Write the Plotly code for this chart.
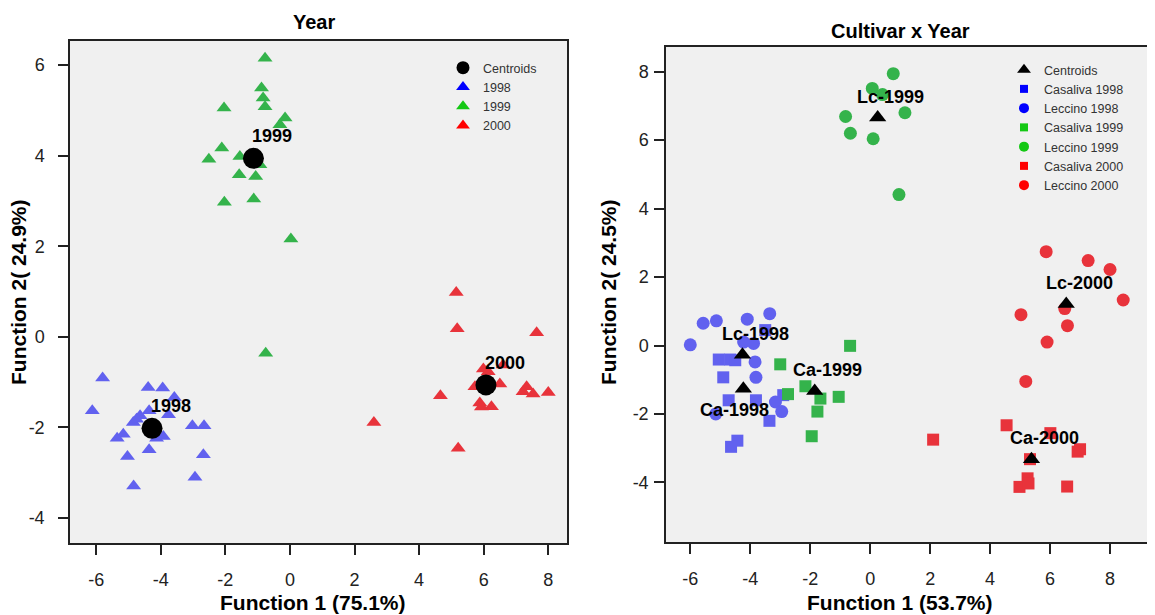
import plotly.graph_objects as go

# ---------------- Left panel: Year ----------------
year_1998_f1 = [-5.80, -6.12, -4.39, -3.94, -3.58, -3.76, -4.36, -4.64, -4.85, -4.75, -5.16, -5.35,
                -4.13, -3.92, -4.36, -5.03, -4.84, -3.02, -2.66, -2.68, -2.94]
year_1998_f2 = [-0.91, -1.63, -1.12, -1.13, -1.34, -1.72, -1.63, -1.74, -1.89, -1.82, -2.15, -2.24,
                -2.24, -2.20, -2.49, -2.64, -3.29, -1.96, -1.96, -2.60, -3.10]
year_1999_f1 = [-0.77, -0.88, -0.83, -0.77, -2.04, -0.15, -0.31, -2.11, -2.51, -1.55, -0.93, -1.57,
                -1.06, -2.03, -1.12, 0.03, -0.75]
year_1999_f2 = [6.15, 5.49, 5.27, 5.08, 5.05, 4.83, 4.68, 4.17, 3.92, 3.98, 3.80, 3.58,
                3.54, 2.97, 3.04, 2.16, -0.36]
year_2000_f1 = [5.15, 5.18, 7.64, 5.99, 6.14, 6.60, 5.73, 6.50, 4.66, 7.33, 7.22, 7.53, 8.00,
                5.88, 5.93, 6.24, 2.60, 5.21]
year_2000_f2 = [0.98, 0.18, 0.09, -0.71, -0.77, -0.62, -1.10, -1.04, -1.30, -1.10, -1.21, -1.26, -1.23,
                -1.46, -1.55, -1.54, -1.89, -2.46]
year_centroid_names = ["1998", "1999", "2000"]
year_centroid_f1 = [-4.27, -1.13, 6.07]
year_centroid_f2 = [-2.02, 3.94, -1.06]

# ---------------- Right panel: Cultivar x Year ----------------
ca1998_f1 = [-5.05, -4.67, -4.50, -4.90, -4.72, -3.81, -3.36, -4.43, -4.64, -3.50, -2.90]
ca1998_f2 = [-0.41, -0.41, -0.43, -0.93, -1.60, -1.60, -2.20, -2.78, -2.96, 0.45, -1.45]
lc1998_f1 = [-6.00, -5.57, -5.13, -4.10, -3.35, -4.22, -3.89, -3.84, -3.81, -3.16, -2.95, -5.15]
lc1998_f2 = [0.02, 0.65, 0.72, 0.77, 0.93, 0.10, 0.06, -0.48, -0.93, -1.65, -1.93, -2.00]
ca1999_f1 = [-0.67, -3.00, -2.74, -2.16, -1.05, -1.66, -1.76, -1.95]
ca1999_f2 = [-0.01, -0.55, -1.42, -1.19, -1.50, -1.55, -1.93, -2.65]
lc1999_f1 = [0.77, 0.07, 0.41, -0.82, 1.16, -0.66, 0.10, 0.96]
lc1999_f2 = [7.94, 7.51, 7.33, 6.69, 6.80, 6.20, 6.04, 4.41]
ca2000_f1 = [2.10, 4.55, 6.01, 6.92, 7.00, 5.33, 5.25, 4.98, 5.28, 6.57]
ca2000_f2 = [-2.75, -2.33, -2.56, -3.10, -3.03, -3.32, -3.88, -4.13, -4.03, -4.12]
lc2000_f1 = [5.87, 7.27, 8.00, 8.44, 5.03, 6.49, 6.58, 5.90, 5.19]
lc2000_f2 = [2.74, 2.48, 2.22, 1.33, 0.90, 1.08, 0.58, 0.10, -1.05]
cy_centroid_names = ["Ca-1998", "Lc-1998", "Ca-1999", "Lc-1999", "Ca-2000", "Lc-2000"]
cy_centroid_f1 = [-4.23, -4.26, -1.85, 0.25, 5.38, 6.54]
cy_centroid_f2 = [-1.26, -0.27, -1.33, 6.66, -3.32, 1.21]

x_ticks = [-6, -4, -2, 0, 2, 4, 6, 8]
y_ticks_left = [-4, -2, 0, 2, 4, 6]
y_ticks_right = [-4, -2, 0, 2, 4, 6, 8]

BLUE, GREEN, RED = "#6161ef", "#34b34b", "#e8333b"
LBLUE, LGREEN, LRED = "#0000ff", "#14c814", "#ff0000"
FONT = "Liberation Sans, Arial, sans-serif"

fig = go.Figure()

# left data
for xs, ys, c in [(year_1998_f1, year_1998_f2, BLUE), (year_1999_f1, year_1999_f2, GREEN),
                  (year_2000_f1, year_2000_f2, RED)]:
    fig.add_trace(go.Scatter(x=xs, y=ys, mode="markers", xaxis="x", yaxis="y", showlegend=False,
                             marker=dict(symbol="triangle-up", size=13, color=c, line=dict(width=0))))
fig.add_trace(go.Scatter(x=year_centroid_f1, y=year_centroid_f2, mode="markers", xaxis="x", yaxis="y",
                         showlegend=False, marker=dict(symbol="circle", size=21, color="black")))

# left legend entries
for name, sym, c, s in [("Centroids", "circle", "black", 13), ("1998", "triangle-up", LBLUE, 12),
                        ("1999", "triangle-up", LGREEN, 12), ("2000", "triangle-up", LRED, 12)]:
    fig.add_trace(go.Scatter(x=[None], y=[None], mode="markers", name=name, xaxis="x", yaxis="y",
                             legend="legend", marker=dict(symbol=sym, size=s, color=c)))

# right data
for xs, ys, sym, c, s in [(ca1998_f1, ca1998_f2, "square", BLUE, 12),
                          (ca1999_f1, ca1999_f2, "square", GREEN, 12),
                          (ca2000_f1, ca2000_f2, "square", RED, 12),
                          (lc1998_f1, lc1998_f2, "circle", BLUE, 13),
                          (lc1999_f1, lc1999_f2, "circle", GREEN, 13),
                          (lc2000_f1, lc2000_f2, "circle", RED, 13)]:
    fig.add_trace(go.Scatter(x=xs, y=ys, mode="markers", xaxis="x2", yaxis="y2", showlegend=False,
                             marker=dict(symbol=sym, size=s, color=c, line=dict(width=0))))
fig.add_trace(go.Scatter(x=cy_centroid_f1, y=cy_centroid_f2, mode="markers", xaxis="x2", yaxis="y2",
                         showlegend=False, marker=dict(symbol="triangle-up", size=15, color="black")))

for name, sym, c, s in [("Centroids", "triangle-up", "black", 12),
                        ("Casaliva 1998", "square", LBLUE, 8), ("Leccino 1998", "circle", LBLUE, 10),
                        ("Casaliva 1999", "square", LGREEN, 8), ("Leccino 1999", "circle", LGREEN, 10),
                        ("Casaliva 2000", "square", LRED, 8), ("Leccino 2000", "circle", LRED, 10)]:
    fig.add_trace(go.Scatter(x=[None], y=[None], mode="markers", name=name, xaxis="x2", yaxis="y2",
                             legend="legend2", marker=dict(symbol=sym, size=s, color=c)))

annotations = []
# centroid labels (left)
for name, x, y in zip(year_centroid_names, year_centroid_f1, year_centroid_f2):
    annotations.append(dict(x=x, y=y, xref="x", yref="y", text=f"<b>{name}</b>", showarrow=False,
                            xshift=19, yshift=22, font=dict(size=18, color="black", family=FONT)))
# centroid labels (right)
shifts = {"Ca-1998": (-9, -21)}
for name, x, y in zip(cy_centroid_names, cy_centroid_f1, cy_centroid_f2):
    dx, dy = shifts.get(name, (13, 21))
    annotations.append(dict(x=x, y=y, xref="x2", yref="y2", text=f"<b>{name}</b>", showarrow=False,
                            xshift=dx, yshift=dy, font=dict(size=18, color="black", family=FONT)))

# the page body adds an 8px margin: lay out the figure in window pixels minus that offset
OFF = 8
W, H = 1155 - OFF, 615 - OFF
def px(x):
    return (x - OFF) / W
def py(y):
    return 1 - (y - OFF) / H

for text, x, y, ang, fs in [("<b>Year</b>", 314, 22, 0, 20), ("<b>Cultivar x Year</b>", 900, 31, 0, 20),
                            ("<b>Function 1 (75.1%)</b>", 313, 602, 0, 21),
                            ("<b>Function 1 (53.7%)</b>", 900, 602, 0, 21),
                            ("<b>Function 2( 24.9%)</b>", 18, 292, -90, 21),
                            ("<b>Function 2( 24.5%)</b>", 608, 292, -90, 21)]:
    annotations.append(dict(x=px(x), y=py(y), xref="paper", yref="paper", text=text, showarrow=False,
                            textangle=ang, xanchor="center", yanchor="middle",
                            font=dict(size=fs, color="black", family=FONT)))

axis_common = dict(showgrid=False, zeroline=False, showline=True, linecolor="#222", linewidth=1.5,
                   ticks="outside", ticklen=10, tickwidth=1.5, tickcolor="#222",
                   tickfont=dict(size=18, color="#222", family=FONT))

fig.update_layout(
    width=W, height=H, margin=dict(l=0, r=0, t=0, b=0),
    paper_bgcolor="white", plot_bgcolor="#f0f0f0",
    xaxis=dict(domain=[px(70), px(567)], range=[-6.81, 8.58], tickvals=x_ticks,
               ticktext=[str(v) for v in x_ticks], anchor="y",
               mirror=True, ticklabelstandoff=10, **axis_common),
    yaxis=dict(domain=[py(543), py(41)], range=[-4.55, 6.53], tickvals=y_ticks_left,
               ticktext=[str(v) for v in y_ticks_left], anchor="x",
               mirror=True, ticklabelstandoff=10, **axis_common),
    xaxis2=dict(domain=[px(666), 1.0], range=[-6.81, 9.5], tickvals=x_ticks,
                ticktext=[str(v) for v in x_ticks], anchor="y2",
                mirror=True, ticklabelstandoff=10, **axis_common),
    yaxis2=dict(domain=[py(542), py(47)], range=[-5.74, 8.72], tickvals=y_ticks_right,
                ticktext=[str(v) for v in y_ticks_right], anchor="x2",
                mirror=False, ticklabelstandoff=2, **axis_common),
    legend=dict(x=px(443), y=py(53), xanchor="left", yanchor="top", bgcolor="rgba(0,0,0,0)",
                font=dict(size=12.5, color="#333", family=FONT), itemclick=False),
    legend2=dict(x=px(1004), y=py(55), xanchor="left", yanchor="top", bgcolor="rgba(0,0,0,0)",
                 font=dict(size=12.5, color="#333", family=FONT), itemclick=False),
    annotations=annotations,
    showlegend=True,
)

fig.write_html("out.html")
